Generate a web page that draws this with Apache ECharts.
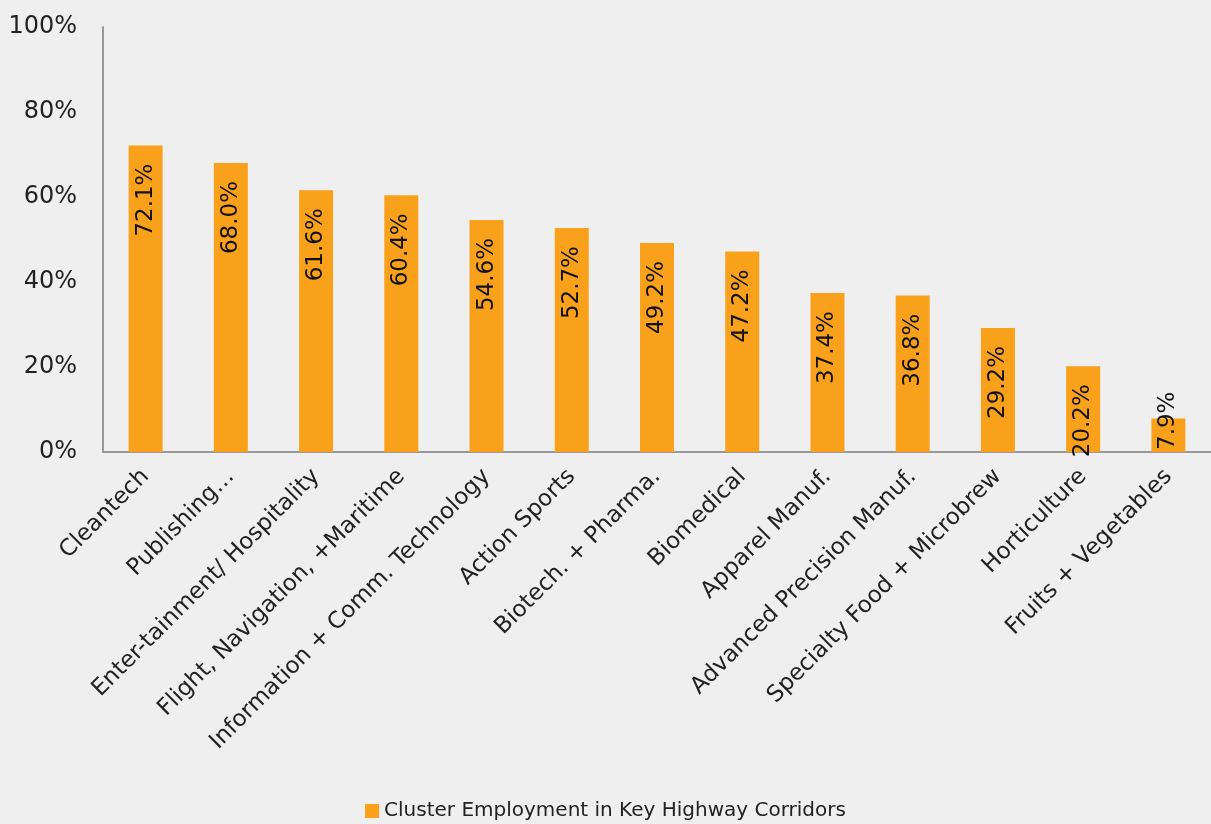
<!DOCTYPE html>
<html>
<head>
<meta charset="utf-8">
<script src="https://cdn.jsdelivr.net/npm/echarts@6/dist/echarts.min.js"></script>
<style>
html,body{margin:0;padding:0;background:#efefef;}
#c{width:1211px;height:824px;}
</style>
</head>
<body>
<div id="c"></div>
<script>
const categories = ["Cleantech","Publishing…","Enter-tainment/ Hospitality","Flight, Navigation, +Maritime","Information + Comm. Technology","Action Sports","Biotech. + Pharma.","Biomedical","Apparel Manuf.","Advanced Precision Manuf.","Specialty Food + Microbrew","Horticulture","Fruits + Vegetables"];
const values = [72.1, 68.0, 61.6, 60.4, 54.6, 52.7, 49.2, 47.2, 37.4, 36.8, 29.2, 20.2, 7.9];
const yTicks = [0, 20, 40, 60, 80, 100];
const seriesName = "Cluster Employment in Key Highway Corridors";

const FONT = "DejaVu Sans";
const chart = echarts.init(document.getElementById('c'), null, {renderer: 'canvas'});
const data = values.map(function (v) {
  if (v < 12) {
    return {value: v, label: {position: 'insideBottom', align: 'left', distance: 2}};
  }
  return {value: v};
});
chart.setOption({
  backgroundColor: '#efefef',
  animation: false,
  grid: {left: 103, top: 27, width: 1116, bottom: 372, containLabel: false},
  legend: {
    bottom: -2, left: 'center',
    data: [seriesName],
    icon: 'rect', itemWidth: 14, itemHeight: 14, itemGap: 4,
    textStyle: {fontFamily: FONT, fontSize: 20, color: '#222'}
  },
  xAxis: {
    type: 'category', data: categories,
    axisLine: {show: true, lineStyle: {color: '#999', width: 2}},
    axisTick: {show: false},
    axisLabel: {rotate: 45, interval: 0, margin: 21, fontFamily: FONT, fontSize: 23, color: '#222'}
  },
  yAxis: {
    type: 'value', min: yTicks[0], max: yTicks[yTicks.length - 1], interval: 20,
    axisLine: {show: true, lineStyle: {color: '#999', width: 2}},
    axisTick: {show: false},
    splitLine: {show: false},
    axisLabel: {formatter: '{value}%', margin: 26, fontFamily: FONT, fontSize: 24, color: '#222'}
  },
  series: [{
    name: seriesName,
    type: 'bar',
    data: data,
    barWidth: 34,
    itemStyle: {color: '#f9a11b'},
    label: {
      show: true, position: 'insideTop', distance: 18, rotate: 90,
      align: 'right', verticalAlign: 'middle',
      fontFamily: FONT, fontSize: 23, color: '#111',
      formatter: function (p) { return p.value.toFixed(1) + '%'; }
    }
  }]
});
</script>
</body>
</html>
